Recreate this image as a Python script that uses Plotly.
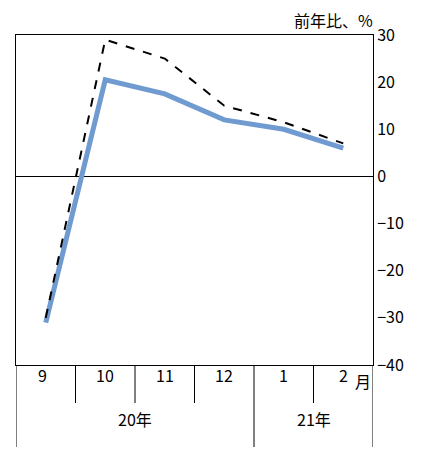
import plotly.graph_objects as go

months = ["9", "10", "11", "12", "1", "2"]
solid = [-31, 20.5, 17.5, 12, 10, 6]
dashed = [-30, 29, 25, 15, 11.5, 7]
years = [("20年", 0, 3), ("21年", 4, 5)]
yticks = [30, 20, 10, 0, -10, -20, -30, -40]

x = list(range(len(months)))
fig = go.Figure()
fig.add_trace(go.Scatter(x=x, y=solid, mode="lines", line=dict(color="#6f9bd1", width=5)))
fig.add_trace(go.Scatter(x=x, y=dashed, mode="lines", line=dict(color="black", width=2, dash="dash")))

font = dict(family="Noto Sans CJK JP", size=16, color="black")
fig.update_layout(
    width=435, height=450, margin=dict(l=8, r=70, t=27, b=93, autoexpand=False),
    plot_bgcolor="white", paper_bgcolor="white", showlegend=False, font=font,
    xaxis=dict(range=[-0.5, 5.5], showticklabels=False, showgrid=False, zeroline=False,
               showline=True, linecolor="black", mirror=True),
    yaxis=dict(range=[-40, 30], side="right", tickvals=yticks, showgrid=False,
               zeroline=True, zerolinecolor="black", zerolinewidth=1,
               showline=True, linecolor="black", mirror=True, ticks="", ticklen=0),
)
H = 330.0
shapes = []
for i in range(1, len(months)):
    long_ = i == 4
    shapes.append(dict(type="line", xref="x", yref="paper", x0=i - 0.5, x1=i - 0.5,
                       y0=0, y1=-(82 if long_ else 38) / H, line=dict(color="black", width=1)))
for xv in [-0.5, 5.5]:
    shapes.append(dict(type="line", xref="x", yref="paper", x0=xv, x1=xv,
                       y0=0, y1=-82 / H, line=dict(color="black", width=1)))
fig.update_layout(shapes=shapes)
ann = []
for i, m in enumerate(months):
    ann.append(dict(x=i - (0.05 if i == 0 else 0), y=-24 / H, xref="x", yref="paper", text=m,
                    showarrow=False, font=font))
for t, a, b in years:
    ann.append(dict(x=(a + b) / 2, y=-68 / H, xref="x", yref="paper", text=t,
                    showarrow=False, font=font))
ann.append(dict(x=5.5, y=-30 / H, xref="x", yref="paper", text="月", showarrow=False,
                xanchor="right", font=font))
ann.append(dict(x=1, y=1, xref="paper", yref="paper", text="前年比、%", showarrow=False,
                xanchor="right", yanchor="bottom", xshift=2, yshift=1, font=font))
fig.update_layout(annotations=ann)
fig.write_html("out.html")
